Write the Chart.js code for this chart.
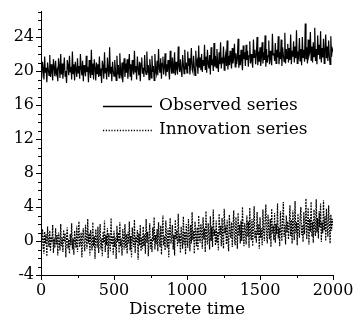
<!DOCTYPE html>
<html>
<head>
<meta charset="utf-8">
<script src="https://cdn.jsdelivr.net/npm/chart.js@4/dist/chart.umd.min.js"></script>
<style>
html,body{margin:0;padding:0;background:#fff;}
#wrap{width:355px;height:320px;}
</style>
</head>
<body>
<div id="wrap"><canvas id="c" width="355" height="320"></canvas></div>
<script>
const timeStep = 5;
const xTicks = [0, 500, 1000, 1500, 2000];
const yTicks = [-4, 0, 4, 8, 12, 16, 20, 24];
const seriesNames = ["Observed series", "Innovation series"];

const observed = [
20.6,19.2,21.1,20.3,19.0,21.7,19.8,20.4,18.7,21.0,20.2,19.5,21.9,19.3,20.8,19.9,18.9,21.4,20.5,19.4,
21.2,19.7,20.1,18.8,21.5,20.6,19.2,22.0,19.6,20.9,19.1,20.3,21.6,19.4,20.0,18.6,21.3,20.7,19.5,21.8,
19.9,20.5,19.0,22.3,19.7,20.8,18.9,21.1,20.2,19.3,21.5,19.8,20.6,19.1,22.0,20.3,19.5,21.2,18.8,20.7,
20.1,19.4,21.8,19.9,20.5,18.7,21.3,20.0,19.2,22.5,19.6,20.9,19.0,21.4,20.4,18.9,21.0,19.7,20.8,19.3,
21.7,19.5,20.3,18.6,21.2,20.6,19.1,22.2,19.8,20.4,19.0,21.6,20.1,19.3,22.8,19.7,20.5,18.8,21.1,20.0,
19.4,21.3,20.2,18.9,21.8,19.6,20.7,19.2,22.1,20.0,19.5,21.0,18.7,20.6,21.5,19.3,20.9,19.8,21.4,19.1,
20.5,22.0,19.4,20.8,18.9,21.3,20.2,19.6,22.4,19.9,20.6,19.0,21.7,20.3,19.5,21.1,18.8,20.9,21.6,19.7,
20.4,19.3,21.9,20.1,19.6,22.3,19.8,20.7,19.0,21.4,20.5,19.2,21.8,19.9,20.6,18.9,22.0,20.2,19.7,21.2,
19.5,22.6,20.3,19.8,21.5,19.1,20.9,21.7,19.6,20.4,22.1,19.4,20.8,19.9,21.3,20.2,19.0,22.4,20.6,19.7,
21.6,19.8,20.7,22.2,19.5,21.1,20.3,19.6,22.9,20.5,19.9,21.4,20.1,19.3,21.9,20.8,19.7,22.5,20.2,21.0,
19.8,22.3,20.6,21.5,19.6,20.9,22.7,20.2,19.9,21.8,20.5,19.5,22.4,20.8,21.2,19.7,23.0,20.4,21.6,20.1,
22.0,19.9,21.3,20.6,23.1,20.2,21.7,19.8,22.5,20.9,20.3,21.9,19.6,22.8,20.7,21.4,20.0,23.3,20.5,21.8,
20.4,22.6,21.0,19.9,22.2,20.8,23.4,20.3,21.6,20.9,22.9,20.1,21.4,22.0,20.6,23.6,20.2,21.8,20.7,22.4,
21.1,20.3,22.7,20.9,21.6,23.2,20.5,22.1,20.8,21.5,23.8,20.4,21.9,20.7,22.5,21.2,20.1,23.0,21.4,22.2,
20.6,23.1,21.3,22.4,20.5,21.8,23.5,20.9,22.0,21.2,20.4,23.7,21.6,22.5,20.8,21.9,24.0,20.7,22.3,21.1,
22.8,20.6,21.7,23.4,20.9,22.2,21.3,24.2,20.5,22.6,21.0,21.8,23.6,20.8,22.4,21.4,20.7,24.4,21.9,22.1,
21.2,23.3,20.9,22.5,21.6,24.1,20.8,22.2,21.4,23.7,20.6,22.8,21.9,21.1,24.5,20.9,22.6,21.5,23.2,21.0,
22.7,21.3,24.3,20.8,22.4,21.7,23.5,21.0,22.9,21.5,24.8,20.9,22.3,21.8,23.9,21.2,22.6,20.7,24.0,21.6,
22.5,21.1,25.6,21.4,22.8,20.9,23.7,21.8,22.2,24.6,21.3,22.9,21.0,23.4,21.7,25.1,21.2,22.6,20.8,24.2,
21.9,23.1,21.4,24.7,21.0,22.7,21.6,23.8,20.9,22.4,24.3,21.5,22.9,21.2,23.6,21.8,20.8,24.1,21.7,22.6,
22.3
];

const innovation = [
0.6,-1.0,1.4,0.2,-1.5,1.1,-0.3,0.8,-1.8,1.7,0.0,-0.7,1.2,-1.2,0.5,-0.2,1.9,-1.4,0.3,-0.8,
1.5,-0.4,0.7,-1.7,1.0,0.1,-1.1,2.0,-0.6,0.4,-1.3,1.3,-0.1,0.9,-1.9,0.6,1.6,-0.9,0.2,-1.5,
0.8,-0.5,2.1,-1.0,0.3,-1.6,1.2,0.0,-0.8,1.8,-1.3,0.5,2.3,-0.7,-0.1,1.0,-1.9,0.7,1.5,-0.4,
-1.2,1.9,0.4,-0.9,2.6,-0.3,0.9,-1.7,1.3,0.1,-1.1,2.2,-0.6,0.6,-2.1,1.4,0.2,-0.8,1.7,-1.4,
0.5,2.0,-1.0,0.3,-1.8,1.1,-0.2,2.4,-1.3,0.7,-0.5,1.5,-2.0,0.9,0.0,-1.2,2.7,-0.4,0.6,-1.6,
1.2,-0.7,0.4,-2.1,1.8,-0.1,1.0,-1.4,2.2,-0.6,0.3,-1.7,1.4,0.2,-1.0,2.0,-0.8,0.8,-1.5,1.1,
-0.3,2.3,-1.1,0.6,-1.9,1.6,0.1,-0.7,2.5,-1.4,0.5,-0.2,1.3,-2.2,0.9,-0.5,1.9,-1.2,0.4,-0.9,
1.7,-0.6,0.8,-1.5,2.6,-0.2,1.1,-1.8,0.5,2.1,-0.9,0.3,-1.3,1.6,0.0,2.8,-1.0,0.7,-0.4,1.4,
-1.2,2.2,0.4,-0.7,1.8,-1.6,1.0,3.0,-0.5,0.6,-1.1,2.4,0.1,-0.8,1.5,-1.9,0.9,2.7,-0.3,0.5,
1.9,-1.0,0.7,-1.7,2.5,0.2,1.3,-0.6,3.2,-0.2,0.8,-1.4,1.7,0.4,-0.9,2.9,-0.4,1.1,-1.6,2.0,
0.3,-0.8,2.6,0.6,-1.2,1.9,-0.3,3.4,0.1,1.2,-1.5,2.3,0.7,-0.6,1.6,-1.1,3.0,0.4,-0.2,2.0,
0.9,-0.9,2.8,0.2,1.5,-1.3,3.5,0.5,-0.4,2.1,0.8,-1.0,2.9,0.0,1.7,-0.7,3.7,0.6,1.3,-0.5,
2.4,-0.2,1.1,-1.1,3.2,0.7,1.8,-0.6,2.7,0.3,-0.9,3.8,0.9,1.4,-0.4,2.5,0.1,-1.2,3.1,1.0,
0.4,2.2,-0.7,1.6,3.6,0.2,-0.5,2.8,1.1,-0.9,3.3,0.6,1.9,-0.3,2.4,0.0,4.0,0.8,-0.6,2.1,
1.3,-0.4,3.0,0.5,2.3,-0.8,3.9,1.0,0.1,2.6,-0.6,1.7,4.1,0.3,1.2,-0.2,3.4,0.7,2.0,-0.9,
2.8,0.4,1.5,-0.5,3.7,1.1,0.0,2.4,4.3,0.6,-0.3,3.1,1.4,0.2,2.6,-0.7,3.8,0.9,1.8,0.1,
3.3,-0.2,2.0,0.8,4.4,0.3,1.6,-0.6,3.5,1.2,0.0,2.7,4.6,0.5,1.9,-0.4,3.0,1.0,2.3,0.2,
1.7,4.2,0.6,2.5,-0.3,3.6,1.3,0.1,4.7,0.9,2.2,-0.5,3.2,1.5,0.4,2.8,4.0,0.7,1.9,-0.1,
3.4,0.8,2.1,5.0,0.2,1.8,3.9,-0.4,2.6,1.1,4.6,0.5,2.3,-0.2,3.7,1.4,0.6,4.9,1.0,2.7,
0.3,3.5,1.6,4.4,-0.1,2.2,0.9,4.8,1.3,2.9,0.0,3.8,1.7,0.5,4.2,2.0,-0.3,3.1,1.2,2.6,
1.9
];

const FONT = "'DejaVu Serif', serif";

const toPoints = arr => arr.map((v, i) => ({x: i * timeStep, y: v}));

const minorTicks = {
  id: 'minorTicks',
  afterDraw(chart) {
    const ctx = chart.ctx;
    const xs = chart.scales.x, ys = chart.scales.y;
    ctx.save();
    ctx.strokeStyle = '#000';
    ctx.lineWidth = 1;
    ctx.beginPath();
    for (let v = Math.ceil(ys.min); v <= ys.max; v++) {
      const p = Math.round(ys.getPixelForValue(v)) + 0.5;
      ctx.moveTo(ys.right, p);
      ctx.lineTo(ys.right - 3, p);
    }
    for (let v = 250; v <= xs.max; v += 500) {
      const p = Math.round(xs.getPixelForValue(v)) + 0.5;
      ctx.moveTo(p, xs.top);
      ctx.lineTo(p, xs.top + 3);
    }
    ctx.stroke();
    ctx.restore();
  }
};

const innerLegend = {
  id: 'innerLegend',
  afterDraw(chart) {
    const ctx = chart.ctx;
    ctx.save();
    ctx.fillStyle = '#000';
    ctx.strokeStyle = '#000';
    ctx.lineWidth = 1.3;
    ctx.font = "17px " + FONT;
    ctx.textBaseline = 'middle';
    const rows = [{y: 106, dash: []}, {y: 130, dash: [1.2, 1.6]}];
    chart.data.datasets.forEach((ds, i) => {
      const r = rows[i];
      ctx.beginPath();
      ctx.setLineDash(r.dash);
      ctx.moveTo(103, r.y + 0.5);
      ctx.lineTo(152, r.y + 0.5);
      ctx.stroke();
      ctx.setLineDash([]);
      ctx.fillText(ds.label, 159, r.y);
    });
    ctx.restore();
  }
};

new Chart(document.getElementById('c'), {
  type: 'line',
  data: {
    datasets: [
      {label: seriesNames[0], data: toPoints(observed), borderColor: '#000', borderWidth: 1.2, pointRadius: 0, tension: 0},
      {label: seriesNames[1], data: toPoints(innovation), borderColor: '#000', borderWidth: 1.2, borderDash: [1.8, 1.1], pointRadius: 0, tension: 0}
    ]
  },
  options: {
    responsive: false,
    animation: false,
    devicePixelRatio: 1,
    layout: {padding: {top: 10, right: 22, left: 0, bottom: 0}},
    plugins: {legend: {display: false}, tooltip: {enabled: false}},
    scales: {
      x: {
        type: 'linear', min: 0, max: 2000,
        afterBuildTicks: s => { s.ticks = xTicks.map(v => ({value: v})); },
        afterFit: s => { s.height = 45; },
        grid: {drawOnChartArea: false, drawTicks: true, tickLength: 5, color: '#000'},
        border: {display: true, color: '#000', width: 1},
        ticks: {color: '#000', font: {family: FONT, size: 16}, padding: 1, maxRotation: 0, callback: v => String(v)},
        title: {display: true, text: 'Discrete time', color: '#000', font: {family: FONT, size: 17}, padding: {top: 0, bottom: 0}}
      },
      y: {
        type: 'linear', min: -4, max: 27,
        afterBuildTicks: s => { s.ticks = yTicks.map(v => ({value: v})); },
        afterFit: s => { s.width = 41; },
        grid: {drawOnChartArea: false, drawTicks: true, tickLength: 5, color: '#000'},
        border: {display: true, color: '#000', width: 1},
        ticks: {color: '#000', font: {family: FONT, size: 16}, padding: 2, callback: v => String(v)}
      }
    }
  },
  plugins: [minorTicks, innerLegend]
});
</script>
</body>
</html>
